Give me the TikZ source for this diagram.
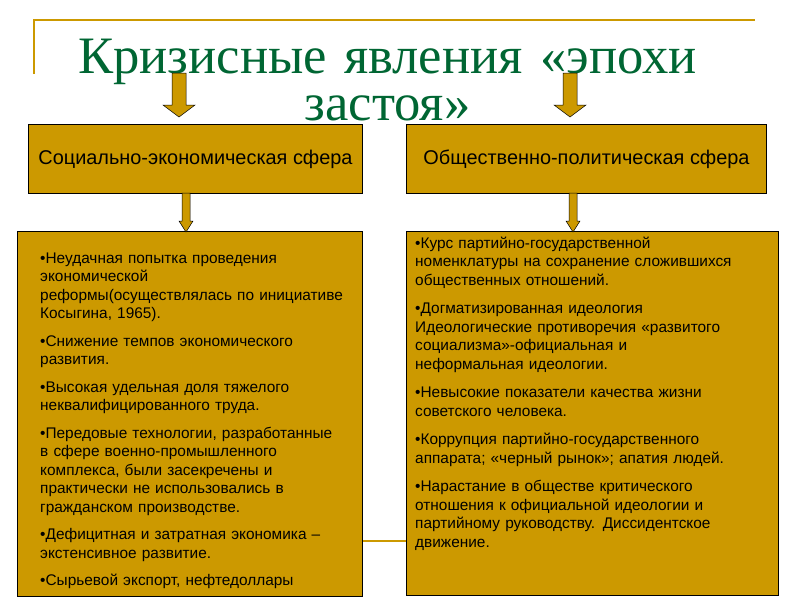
\documentclass[tikz,border=0pt]{standalone}
\usepackage{fontspec}
\setmainfont{Liberation Serif}
\newfontfamily\arialf{Liberation Sans}
\definecolor{gold}{RGB}{204,153,0}
\definecolor{decor}{RGB}{204,153,0}
\definecolor{titlegreen}{RGB}{0,102,51}
\newcommand\blockarrow[6]{%
  \draw[arrowstyle] (#1-#4,#2) -- (#1+#4,#2) -- (#1+#4,#3-#6) -- (#1+#5,#3-#6)
    -- (#1,#3) -- (#1-#5,#3-#6) -- (#1-#4,#3-#6) -- cycle;}
\begin{document}
\begin{tikzpicture}[x=1pt,y=-1pt,
  box/.style={draw=black, line width=1pt, fill=gold, rectangle, inner sep=0pt, anchor=north west},
  headtext/.style={font=\arialf\fontsize{19.9}{23}\selectfont, text=black},
  bodytext/.style={font=\arialf\fontsize{15.4}{18.5}\selectfont, text=black, align=left, text width=360pt, inner sep=0pt, anchor=base west},
  titletext/.style={font=\fontsize{52.6}{47}\selectfont, text=titlegreen, inner sep=0pt, text width=700pt, align=center, anchor=base},
  arrowstyle/.style={draw=black, line width=0.5pt, fill=gold},
  decorline/.style={draw=decor, line width=2pt}]
\useasboundingbox (0,0) rectangle (800,600);
% decoration
\draw[decorline] (34,74) -- (34,20) -- (755,20);
% title
\node[titletext] (title) at (387.5,73) {Кризисные явления «эпохи\\ застоя»};
% header boxes
\node[box, minimum width=334pt, minimum height=69pt] (h1) at (28,124) {};
\node[headtext] (h1t) at (h1.center) {Социально-экономическая сфера};
\node[box, minimum width=360pt, minimum height=69pt] (h2) at (406,124) {};
\node[headtext] (h2t) at (h2.center) {Общественно-политическая сфера};
% body boxes
\node[box, minimum width=345pt, minimum height=365pt] (b1) at (17,231) {};
\node[box, minimum width=372pt, minimum height=364pt] (b2) at (406,231) {};
\draw[decorline] (b1.east |- 0,541) -- (b2.west |- 0,541);
% arrows
\blockarrow{179}{73}{117}{7}{16}{12}
\blockarrow{570}{73}{117}{7}{16}{12}
\blockarrow{186}{193}{232}{4}{7}{11}
\blockarrow{573}{193}{232}{4}{7}{11}
% texts
\node[bodytext] (t1) at (40,263) {%
•Неудачная попытка проведения\\
экономической\\
реформы(осуществлялась по инициативе\\
Косыгина, 1965).\\[9pt]
•Снижение темпов экономического\\
развития.\\[9pt]
•Высокая удельная доля тяжелого\\
неквалифицированного труда.\\[9pt]
•Передовые технологии, разработанные\\
в сфере военно-промышленного\\
комплекса, были засекречены и\\
практически не использовались в\\
гражданском производстве.\\[9pt]
•Дефицитная и затратная экономика –\\
экстенсивное развитие.\\[9pt]
•Сырьевой экспорт, нефтедоллары};
\node[bodytext] (t2) at (415,248) {%
•Курс партийно-государственной\\
номенклатуры на сохранение сложившихся\\
общественных отношений.\\[10pt]
•Догматизированная идеология\\
Идеологические противоречия «развитого\\
социализма»-официальная и\\
неформальная идеологии.\\[10pt]
•Невысокие показатели качества жизни\\
советского человека.\\[10pt]
•Коррупция партийно-государственного\\
аппарата; «черный рынок»; апатия людей.\\[10pt]
•Нарастание в обществе критического\\
отношения к официальной идеологии и\\
партийному руководству. Диссидентское\\
движение.};
\end{tikzpicture}
\end{document}
